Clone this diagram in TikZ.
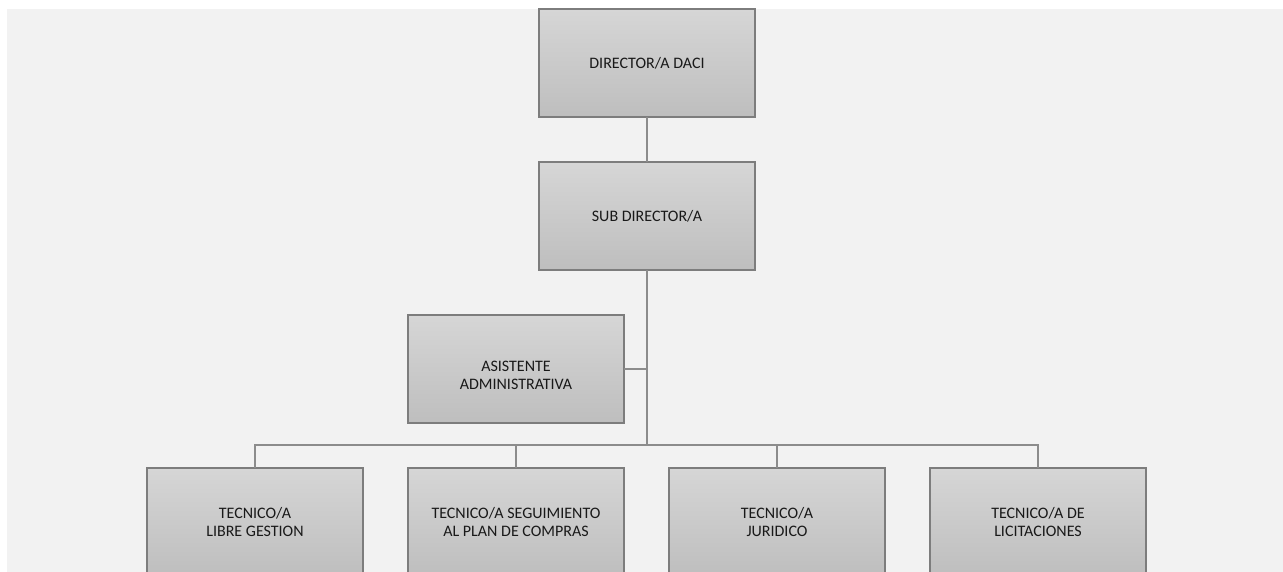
\documentclass[tikz,border=0pt]{standalone}
\usepackage{fontspec}
\setmainfont{Carlito}
\usetikzlibrary{positioning}
\definecolor{boxTop}{RGB}{214,214,214}
\definecolor{boxBottom}{RGB}{190,190,190}
\definecolor{boxEdge}{RGB}{125,125,125}
\definecolor{lineGray}{RGB}{140,140,140}
\definecolor{paperGray}{RGB}{242,242,242}

\begin{document}
\begin{tikzpicture}[x=1pt, y=-1pt,
  box/.style={rectangle, draw=boxEdge, line width=1.3pt,
              top color=boxTop, bottom color=boxBottom,
              minimum width=216pt, minimum height=108pt,
              inner sep=0pt, outer sep=0pt, align=center,
              text=black!90, font=\fontsize{16}{18.5}\selectfont},
  link/.style={lineGray, line width=2pt},
  node distance=45pt
]
  \clip (0,0) rectangle (1283,572);
  \fill[paperGray] (7,9) rectangle (1283,572);
  \node[box, anchor=north west] (dir) at (539,9) {DIRECTOR/A DACI};
  \node[box, below=of dir] (sub) {SUB DIRECTOR/A};
  \node[box, below=of sub, xshift=-131pt, text height=42pt] (asis)
    {ASISTENTE\\ADMINISTRATIVA};
  \node[box, below=of asis] (t2)
    {TECNICO/A SEGUIMIENTO\\AL PLAN DE COMPRAS};
  \node[box, left=of t2] (t1) {TECNICO/A\\LIBRE GESTION};
  \node[box, right=of t2] (t3) {TECNICO/A\\JURIDICO};
  \node[box, right=of t3] (t4) {TECNICO/A DE\\LICITACIONES};
  \coordinate (hub) at (sub.south |- 0,445);
  \draw[link] (dir) -- (sub);
  \draw[link] (sub.south) -- (hub);
  \draw[link] (asis.east) -- (asis.east -| hub);
  \foreach \t in {t1,t2,t3,t4}
    \draw[link] (\t.north) |- (hub);
\end{tikzpicture}
\end{document}
